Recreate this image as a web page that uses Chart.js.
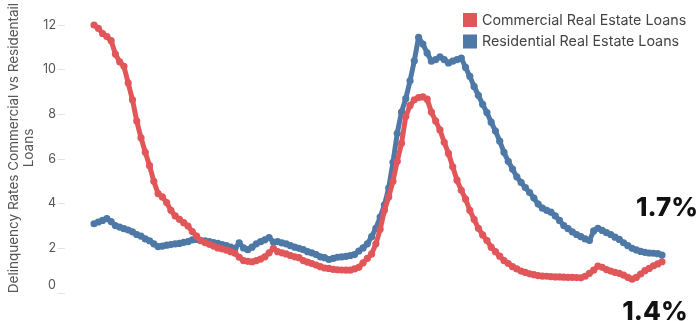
<!DOCTYPE html>
<html>
<head>
<meta charset="utf-8">
<script src="https://cdn.jsdelivr.net/npm/chart.js@4/dist/chart.umd.min.js"></script>
<style>
  html, body { margin: 0; padding: 0; background: #ffffff; }
  #wrap { width: 698px; height: 321px; }
</style>
</head>
<body>
<div id="wrap"><canvas id="chart" width="698" height="321"></canvas></div>
<script>
// Quarterly delinquency rates (%), 1991 Q1 – 2024 Q2
const categories = [];
for (let y = 1991; y <= 2024; y++) {
  for (let q = 1; q <= 4; q++) {
    if (y === 2024 && q > 2) break;
    categories.push(y + ' Q' + q);
  }
}

const commercialRates = [
  12.00, 11.85, 11.62, 11.48, 11.30, 10.70, 10.35, 10.15, 9.40, 8.65,
  7.70, 6.95, 6.30, 5.70, 5.00, 4.45, 4.30, 4.05, 3.70, 3.45,
  3.30, 3.15, 3.00, 2.75, 2.55, 2.35, 2.26, 2.18, 2.10, 2.02,
  1.98, 1.92, 1.85, 1.78, 1.60, 1.45, 1.42, 1.40, 1.45, 1.52,
  1.62, 1.80, 2.00, 1.85, 1.80, 1.75, 1.68, 1.62, 1.58, 1.45,
  1.38, 1.32, 1.25, 1.18, 1.12, 1.10, 1.06, 1.04, 1.03, 1.02,
  1.02, 1.08, 1.15, 1.35, 1.55, 1.75, 2.20, 2.85, 3.70, 4.30,
  5.00, 5.90, 6.70, 7.90, 8.40, 8.65, 8.75, 8.78, 8.68, 8.10,
  7.70, 7.30, 6.75, 6.25, 5.65, 5.05, 4.60, 4.20, 3.70, 3.30,
  2.90, 2.60, 2.35, 2.05, 1.85, 1.65, 1.45, 1.32, 1.18, 1.08,
  0.98, 0.92, 0.86, 0.82, 0.78, 0.76, 0.75, 0.73, 0.72, 0.72,
  0.71, 0.70, 0.70, 0.69, 0.68, 0.75, 0.88, 1.02, 1.20, 1.15,
  1.05, 0.98, 0.92, 0.88, 0.80, 0.70, 0.62, 0.70, 0.85, 1.00,
  1.10, 1.22, 1.30, 1.40
];

const residentialRates = [
  3.10, 3.18, 3.25, 3.33, 3.20, 3.02, 2.95, 2.88, 2.82, 2.74,
  2.62, 2.55, 2.42, 2.34, 2.20, 2.08, 2.10, 2.14, 2.17, 2.20,
  2.22, 2.27, 2.30, 2.38, 2.40, 2.34, 2.33, 2.30, 2.26, 2.22,
  2.17, 2.12, 2.06, 2.00, 2.24, 2.02, 1.94, 2.05, 2.20, 2.30,
  2.38, 2.48, 2.28, 2.30, 2.24, 2.20, 2.12, 2.05, 2.00, 1.94,
  1.85, 1.80, 1.72, 1.62, 1.58, 1.50, 1.55, 1.60, 1.62, 1.64,
  1.68, 1.72, 1.88, 2.02, 2.20, 2.52, 2.90, 3.40, 3.95, 4.70,
  5.85, 7.15, 8.10, 8.70, 9.50, 10.40, 11.45, 11.15, 10.75, 10.38,
  10.45, 10.57, 10.45, 10.30, 10.38, 10.45, 10.52, 10.10, 9.70, 9.25,
  8.85, 8.45, 8.08, 7.65, 7.25, 6.80, 6.30, 5.90, 5.55, 5.20,
  4.95, 4.72, 4.50, 4.25, 3.98, 3.80, 3.70, 3.62, 3.45, 3.25,
  3.02, 2.88, 2.74, 2.62, 2.52, 2.42, 2.35, 2.78, 2.90, 2.80,
  2.70, 2.62, 2.50, 2.40, 2.25, 2.12, 2.00, 1.93, 1.86, 1.82,
  1.79, 1.78, 1.76, 1.70
];

const seriesNames = ['Commercial Real Estate Loans', 'Residential Real Estate Loans'];
const seriesColors = ['#e15759', '#4e79a7'];
const yTicks = [0, 2, 4, 6, 8, 10, 12];
const yTitle = ['Delinquency Rates Commercial vs Residentail', 'Loans'];

const FONT = 'Inter, "Noto Sans", sans-serif';

function toPoints(values) {
  return values.map((v, i) => ({ x: i, y: v }));
}

// Legend, axis title, shifted zero label and end-value callouts
const decorations = {
  id: 'decorations',
  afterDraw(chart) {
    const ctx = chart.ctx;
    const yScale = chart.scales.y;
    const area = chart.chartArea;
    ctx.save();

    // y axis title, two rotated lines
    ctx.fillStyle = '#555555';
    ctx.font = '13.5px ' + FONT;
    ctx.textAlign = 'center';
    ctx.textBaseline = 'middle';
    const midY = (area.top + area.bottom) / 2 - 11;
    yTitle.forEach((line, k) => {
      ctx.save();
      ctx.translate(14 + k * 15, midY);
      ctx.rotate(-Math.PI / 2);
      ctx.fillText(line, 0, 0);
      ctx.restore();
    });

    // zero tick label sits slightly above its tick mark
    ctx.font = '12.5px ' + FONT;
    ctx.fillStyle = '#555555';
    ctx.textAlign = 'right';
    ctx.fillText(String(yTicks[0]), 56, yScale.getPixelForValue(yTicks[0]) - 8);

    // legend
    chart.data.datasets.forEach((ds, k) => {
      const top = 13 + k * 21.5;
      ctx.fillStyle = ds.borderColor;
      ctx.fillRect(463, top, 14, 14);
      ctx.fillStyle = '#444444';
      ctx.font = '14.3px ' + FONT;
      ctx.textAlign = 'left';
      ctx.textBaseline = 'middle';
      ctx.fillText(ds.label, 482, top + 7.5);
    });

    // last-value callouts
    ctx.font = '800 26px ' + FONT;
    ctx.fillStyle = '#111111';
    ctx.textAlign = 'center';
    ctx.textBaseline = 'middle';
    const offsets = [{ dx: -7, dy: 50 }, { dx: 5, dy: -47 }];
    chart.data.datasets.forEach((ds, k) => {
      const meta = chart.getDatasetMeta(k);
      const last = meta.data[meta.data.length - 1];
      const value = ds.data[ds.data.length - 1].y;
      ctx.fillText(value.toFixed(1) + '%', last.x + offsets[k].dx, last.y + offsets[k].dy);
    });

    ctx.restore();
  }
};

function lineDataset(label, values, color) {
  return {
    label: label,
    data: toPoints(values),
    borderColor: color,
    backgroundColor: color,
    pointBackgroundColor: color,
    borderWidth: 5,
    pointRadius: 3.6,
    pointBorderWidth: 0,
    borderJoinStyle: 'round',
    borderCapStyle: 'round',
    tension: 0,
    clip: false
  };
}

new Chart(document.getElementById('chart'), {
  type: 'line',
  data: {
    datasets: [
      lineDataset(seriesNames[0], commercialRates, seriesColors[0]),
      lineDataset(seriesNames[1], residentialRates, seriesColors[1])
    ]
  },
  options: {
    responsive: false,
    animation: false,
    devicePixelRatio: 1,
    layout: { padding: { top: 25, bottom: 28, right: 36, left: 0 } },
    plugins: {
      legend: { display: false },
      tooltip: { enabled: false }
    },
    scales: {
      x: {
        type: 'linear',
        display: false,
        min: -6.8,
        max: categories.length - 1
      },
      y: {
        min: 0,
        max: 12,
        afterFit(scale) { scale.width = 65; },
        afterBuildTicks(scale) { scale.ticks = yTicks.map(v => ({ value: v })); },
        border: { display: false },
        grid: {
          drawOnChartArea: false,
          drawTicks: true,
          tickLength: 7,
          color: '#e3e3e3'
        },
        ticks: {
          padding: 2,
          color: '#555555',
          font: { family: FONT, size: 12.5 },
          callback: (v) => (v === 0 ? '' : String(v))
        }
      }
    }
  },
  plugins: [decorations]
});
</script>
</body>
</html>
